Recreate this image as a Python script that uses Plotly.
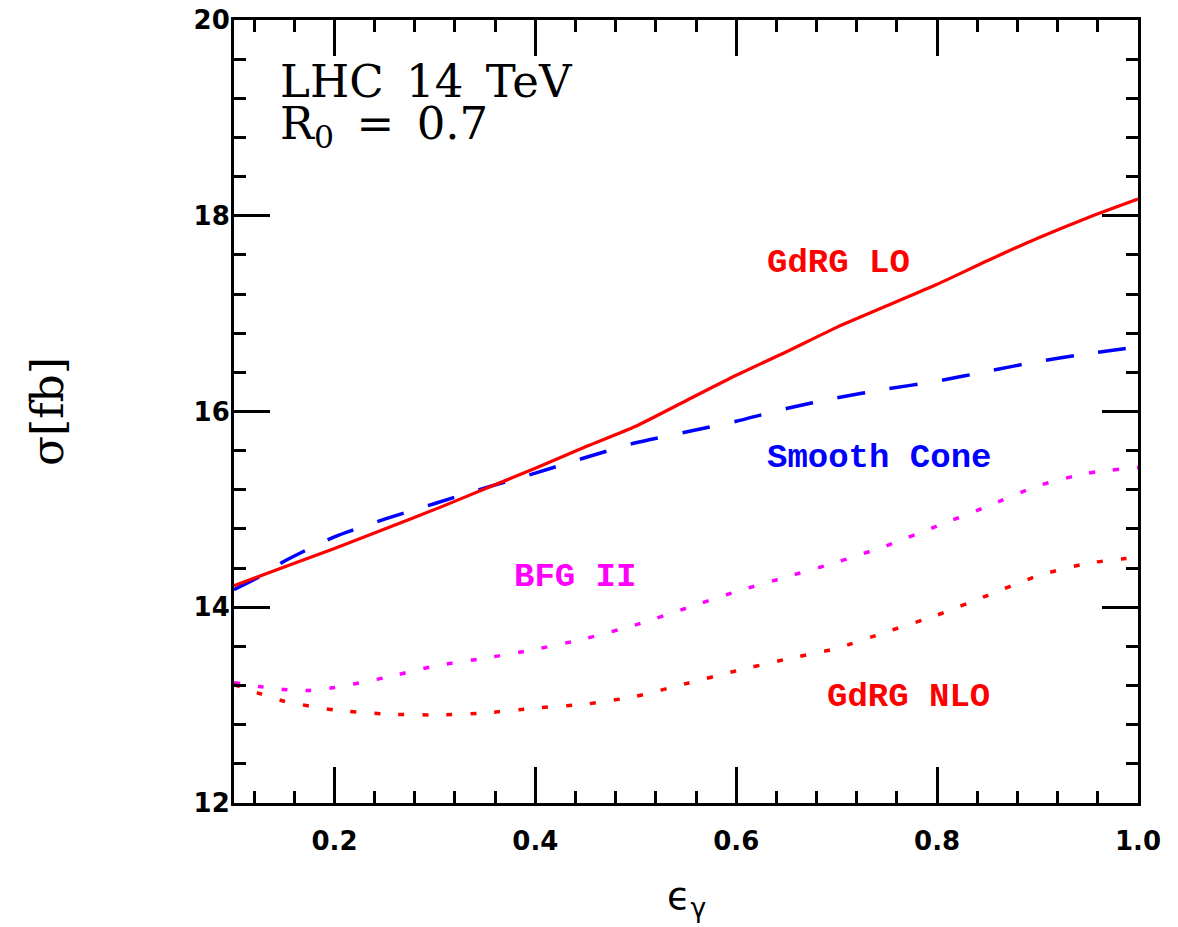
import plotly.graph_objects as go

# epsilon_gamma grids and cross sections sigma [fb]
eps_lo = [0.10, 0.15, 0.20, 0.25, 0.30, 0.35, 0.40, 0.45, 0.50, 0.55, 0.60,
          0.65, 0.70, 0.75, 0.80, 0.85, 0.90, 0.95, 1.00]
sigma_gdrg_lo = [14.22, 14.41, 14.60, 14.80, 15.00, 15.21, 15.42, 15.64, 15.85, 16.11, 16.37,
                 16.61, 16.86, 17.08, 17.30, 17.54, 17.77, 17.98, 18.17]

eps_sc = [0.10, 0.125, 0.15, 0.20, 0.25, 0.30, 0.35, 0.40, 0.45, 0.50, 0.55, 0.60,
          0.65, 0.70, 0.75, 0.80, 0.85, 0.90, 0.95, 1.00]
sigma_smooth = [14.18, 14.31, 14.47, 14.72, 14.90, 15.06, 15.22, 15.37, 15.53, 15.68, 15.79, 15.90,
                16.03, 16.14, 16.23, 16.31, 16.41, 16.51, 16.59, 16.66]

eps_bfg = [0.10, 0.125, 0.15, 0.175, 0.20, 0.25, 0.30, 0.35, 0.40, 0.45, 0.50, 0.55, 0.60,
           0.65, 0.70, 0.75, 0.80, 0.85, 0.90, 0.95, 1.00]
sigma_bfg2 = [13.23, 13.19, 13.16, 13.15, 13.18, 13.28, 13.40, 13.48, 13.57, 13.68, 13.82, 13.99, 14.16,
              14.31, 14.46, 14.63, 14.83, 15.03, 15.24, 15.37, 15.43]

eps_nlo = [0.10, 0.125, 0.15, 0.20, 0.25, 0.30, 0.35, 0.40, 0.45, 0.50, 0.55, 0.60,
           0.65, 0.70, 0.75, 0.80, 0.85, 0.90, 0.95, 1.00]
sigma_gdrg_nlo = [13.21, 13.12, 13.04, 12.95, 12.91, 12.90, 12.92, 12.97, 13.01, 13.09, 13.22, 13.35,
                  13.47, 13.58, 13.75, 13.92, 14.12, 14.32, 14.45, 14.51]

x_ticks = [0.2, 0.4, 0.6, 0.8, 1.0]
x_tick_text = ["0.2", "0.4", "0.6", "0.8", "1.0"]
y_ticks = [12, 14, 16, 18, 20]
y_tick_text = ["12", "14", "16", "18", "20"]

fig = go.Figure()
fig.add_trace(go.Scatter(x=eps_sc, y=sigma_smooth, mode="lines", name="Smooth Cone",
                         line=dict(color="#0000FF", width=3.5, dash="28px,25px", shape="spline", smoothing=0.6)))
fig.add_trace(go.Scatter(x=eps_bfg, y=sigma_bfg2, mode="lines", name="BFG II",
                         line=dict(color="#FF00FF", width=3.5, dash="6px,18px", shape="spline", smoothing=0.6)))
fig.add_trace(go.Scatter(x=eps_nlo, y=sigma_gdrg_nlo, mode="lines", name="GdRG NLO",
                         line=dict(color="#FF0000", width=3.5, dash="6px,18px", shape="spline", smoothing=0.6)))
fig.add_trace(go.Scatter(x=eps_lo, y=sigma_gdrg_lo, mode="lines", name="GdRG LO",
                         line=dict(color="#FF0000", width=3.2, shape="spline", smoothing=0.6)))

tickfont = dict(family="DejaVu Sans", size=26, color="black", weight="bold")
fig.update_xaxes(range=[0.1, 1.0], tickvals=x_ticks, ticktext=x_tick_text, automargin=False,
                 ticklabeloverflow="allow",
                 ticks="inside", ticklen=36, tickwidth=3, tickcolor="black",
                 showline=True, linewidth=3, linecolor="black", mirror="ticks",
                 showgrid=False, zeroline=False, tickfont=tickfont, ticklabelstandoff=13,
                 minor=dict(dtick=0.04, tick0=0, ticks="inside", ticklen=12, tickwidth=3,
                            tickcolor="black", showgrid=False))
fig.update_yaxes(range=[12, 20], tickvals=y_ticks, ticktext=y_tick_text, automargin=False,
                 ticklabeloverflow="allow",
                 ticks="inside", ticklen=36, tickwidth=3, tickcolor="black",
                 showline=True, linewidth=3, linecolor="black", mirror="ticks",
                 showgrid=False, zeroline=False, tickfont=tickfont, ticklabelstandoff=-4,
                 minor=dict(dtick=0.4, tick0=12, ticks="inside", ticklen=12, tickwidth=3,
                            tickcolor="black", showgrid=False))

lab = dict(family="Liberation Mono", size=34, weight="bold")
annotations = [
    dict(x=0.7016, y=17.52, text="GdRG LO", font=dict(lab, color="#FF0000")),
    dict(x=0.742, y=15.53, text="Smooth Cone", font=dict(lab, color="#0000FF")),
    dict(x=0.4396, y=14.31, text="BFG II", font=dict(lab, color="#FF00FF")),
    dict(x=0.772, y=13.08, text="GdRG NLO", font=dict(lab, color="#FF0000")),
]
for a in annotations:
    a.update(xref="x", yref="y", showarrow=False, xanchor="center", yanchor="middle")

# body margin of the page is 8px: the figure div starts at (8, 8)
W, H = 1170, 919
L, R, T, B = 226, 40, 12, 124
PW, PH = W - L - R, H - T - B


def px_x(px):
    return (px - 8 - L) / PW


def px_y(py):
    return 1 - (py - 8 - T) / PH


sp = "\u2002"
serif = dict(family="DejaVu Serif", size=45, color="black")
annotations += [
    dict(x=0.1437, y=19.37, xref="x", yref="y", text="LHC" + sp + "14" + sp + "TeV", showarrow=False,
         xanchor="left", yanchor="middle", font=serif),
    dict(x=0.1437, y=18.92, xref="x", yref="y", text="R<sub>0</sub>" + sp + "=" + sp + "0.7", showarrow=False,
         xanchor="left", yanchor="middle", font=serif),
    dict(x=px_x(47), y=px_y(412), xref="paper", yref="paper",
         text="σ[fb]", textangle=-90, showarrow=False, xanchor="center", yanchor="middle",
         font=dict(family="DejaVu Serif", size=44, color="black")),
    dict(x=px_x(686), y=px_y(899), xref="paper", yref="paper",
         text="ϵ<sub>γ</sub>", showarrow=False, xanchor="center", yanchor="middle",
         font=dict(family="DejaVu Sans", size=38, color="black")),
    dict(x=px_x(5), y=px_y(835), xref="paper", yref="paper",
         text="0", showarrow=False, xanchor="right", yanchor="middle",
         font=tickfont),
]

fig.update_layout(width=W, height=H, margin=dict(l=L, r=R, t=T, b=B, autoexpand=False),
                  plot_bgcolor="white", paper_bgcolor="white", showlegend=False,
                  annotations=annotations)

fig.write_html("out.html")
